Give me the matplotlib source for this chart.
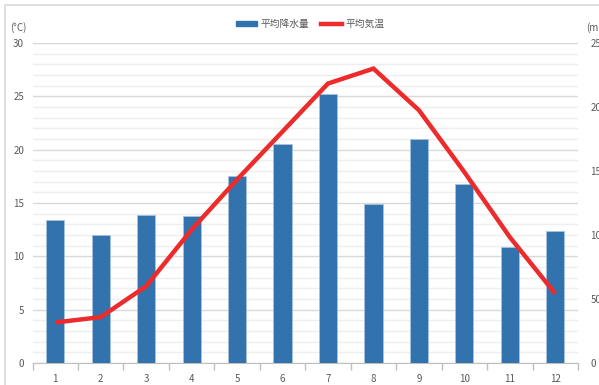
import matplotlib
matplotlib.use("Agg")
import matplotlib.pyplot as plt
from matplotlib.ticker import MultipleLocator, FixedLocator, NullFormatter
from matplotlib.patches import Rectangle
from matplotlib.lines import Line2D

plt.rcParams['font.family'] = ['Noto Sans CJK JP', 'DejaVu Sans']

months = [1, 2, 3, 4, 5, 6, 7, 8, 9, 10, 11, 12]
month_labels = ['1', '2', '3', '4', '5', '6', '7', '8', '9', '10', '11', '12']
precip_mm = [112, 100, 116, 115, 146, 171, 210, 124, 175, 140, 91, 103]
temp_c = [3.8, 4.3, 7.2, 12.5, 17.2, 21.7, 26.2, 27.6, 23.7, 17.9, 11.8, 6.5]

BAR_COLOR = '#3273ad'
LINE_COLOR = '#ee2b2b'
TEXT_COLOR = '#595959'
MAJOR_GRID = '#d9d9d9'
MINOR_GRID = '#eeeeee'

W, H = 599, 385
fig = plt.figure(figsize=(W / 100, H / 100), dpi=100)

# chart frame
fig.patches.append(Rectangle((5 / W, -0.1), 1.2, 1 - 5 / H + 0.1,
                             transform=fig.transFigure, fill=False,
                             edgecolor='#d9d9d9', linewidth=1.2))

left, right = 32.5 / W, 578 / W
bottom, top = 1 - 363 / H, 1 - 43 / H
rect = [left, bottom, right - left, top - bottom]

# temperature axis: grid and left ticks
ax_t = fig.add_axes(rect)
ax_t.set_xlim(0.5, 12.5)
ax_t.set_ylim(0, 30)
ax_t.yaxis.set_major_locator(MultipleLocator(5))
ax_t.yaxis.set_minor_locator(MultipleLocator(1))
ax_t.grid(True, which='major', axis='y', color=MAJOR_GRID, linewidth=1.0)
ax_t.grid(True, which='minor', axis='y', color=MINOR_GRID, linewidth=1.0)
ax_t.set_axisbelow(True)
for s in ['top', 'left', 'right']:
    ax_t.spines[s].set_visible(False)
ax_t.spines['bottom'].set_color('#bfbfbf')
ax_t.tick_params(axis='y', which='both', length=0, labelsize=7,
                 labelcolor=TEXT_COLOR, pad=6)
ax_t.set_xticks(months)
ax_t.set_xticklabels(month_labels)
ax_t.xaxis.set_minor_locator(FixedLocator([m + 0.5 for m in [0] + months]))
ax_t.xaxis.set_minor_formatter(NullFormatter())
ax_t.tick_params(axis='x', which='major', length=0, labelsize=7,
                 labelcolor=TEXT_COLOR, pad=8)
ax_t.tick_params(axis='x', which='minor', length=5, color='#bfbfbf', width=1)

# precipitation axis: bars and right ticks
ax_p = ax_t.twinx()
ax_p.set_ylim(0, 250)
ax_p.yaxis.set_major_locator(MultipleLocator(50))
for s in ax_p.spines.values():
    s.set_visible(False)
ax_p.tick_params(axis='y', length=0, labelsize=7, labelcolor=TEXT_COLOR, pad=9)
bars = ax_p.bar(months, precip_mm, width=0.4, color=BAR_COLOR,
                edgecolor='#a9c4e0', linewidth=0.5, label='平均降水量')

# temperature line on top
ax_l = ax_t.twinx()
ax_l.set_ylim(0, 30)
ax_l.set_yticks([])
for s in ax_l.spines.values():
    s.set_visible(False)
ax_l.plot(months, temp_c, color=LINE_COLOR, linewidth=3.2,
          solid_joinstyle='miter', solid_capstyle='butt', label='平均気温')

# unit labels
fig.text(18 / W, 1 - 28 / H, '(°C)', ha='center', va='center',
         fontsize=7, color=TEXT_COLOR)
fig.text(586 / W, 1 - 28 / H, '(mm)', ha='left', va='center',
         fontsize=7, color=TEXT_COLOR)

handles = [Rectangle((0, 0), 1, 1, color=BAR_COLOR),
           Line2D([0], [0], color=LINE_COLOR, linewidth=3.2)]
fig.legend(handles, ['平均降水量', '平均気温'], loc='center',
           bbox_to_anchor=(310 / W, 1 - 24 / H), ncol=2, frameon=False,
           fontsize=7, labelcolor=TEXT_COLOR, handlelength=2.2,
           handletextpad=0.3, columnspacing=1.2, handleheight=0.5)

fig.savefig('out.png', dpi=100)
